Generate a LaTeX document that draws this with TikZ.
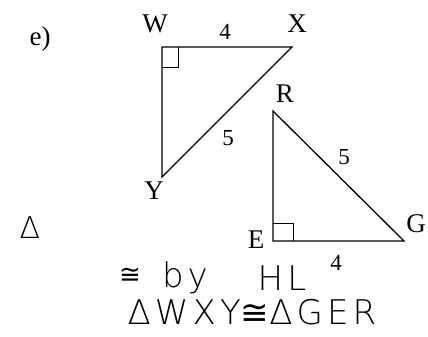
\documentclass[tikz,border=0pt]{standalone}
\usepackage{fontspec}
\setmainfont{Liberation Serif}
\newfontfamily\hand[LetterSpace=12]{DejaVu Sans ExtraLight}
\newfontfamily\handsym{DejaVu Sans}
\newcommand{\hcong}{{\handsym ≅}}
\begin{document}
\begin{tikzpicture}[x=1pt,y=-1pt,
  edge/.style={line width=1.3pt},
  lbl/.style={inner sep=0pt,font=\fontsize{27}{29}\selectfont},
  num/.style={inner sep=0pt,font=\fontsize{23}{25}\selectfont},
  hw/.style={inner sep=0pt,font=\hand\fontsize{34}{36}\selectfont}]
\useasboundingbox (0,0) rectangle (428,337);
% vertices
\coordinate (W) at (162,47);
\coordinate (X) at (292,47);
\coordinate (Y) at (162,177);
\coordinate (R) at (273,111);
\coordinate (E) at (273,241);
\coordinate (G) at (404,241);
% triangles
\draw[edge] (W) -- (X) -- (Y) -- cycle;
\draw[edge] (R) -- (G) -- (E) -- cycle;
% right angle marks
\draw[line width=1pt] ([yshift=-20]W) -| ([xshift=16]W);
\draw[line width=1pt] ([yshift=18]E) -| ([xshift=20]E);
% labels
\node[lbl] (le) at (40,39) {e)};
\node[lbl] (lW) at (155,24) {W};
\node[lbl] (lX) at (297,24) {X};
\node[lbl] (lY) at (154,191) {Y};
\node[lbl] (lR) at (285,94) {R};
\node[lbl] (lE) at (256,240) {E};
\node[lbl] (lG) at (416,224) {G};
\node[num] (n1) at (225,32) {4};
\node[num] (n2) at (228,138) {5};
\node[num] (n3) at (344,157) {5};
\node[num] (n4) at (336,263) {4};
% handwriting
\node[hw,font=\hand\fontsize{30}{32}\selectfont] (tri) at (30,228) {Δ};
\node[hw,font=\handsym\fontsize{26}{28}\selectfont] (c1) at (130,276) {≅};
\node[hw] (by) at (185,278) {by};
\node[hw] (hl) at (282,278) {HL};
\node[hw] (cong) at (252,312) {ΔWXY\hcong ΔGER};
\end{tikzpicture}
\end{document}
